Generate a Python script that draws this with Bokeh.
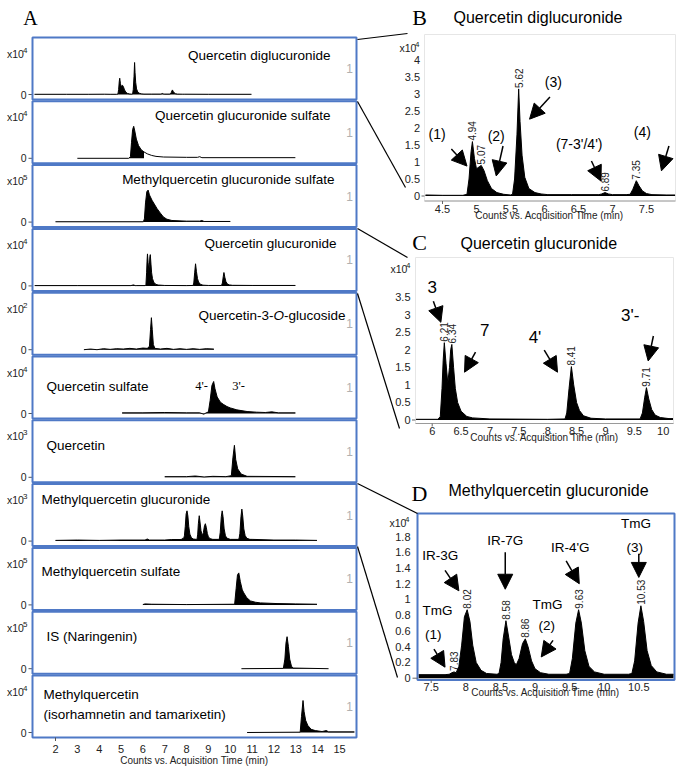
import numpy as np
from bokeh.plotting import figure
from bokeh.models import Range1d, ColumnDataSource, Arrow, NormalHead
from bokeh.core.properties import value
from bokeh.embed import file_html
from bokeh.resources import INLINE

# ---------------- data ----------------
a_names = ["Quercetin diglucuronide", "Quercetin glucuronide sulfate",
           "Methylquercetin glucuronide sulfate", "Quercetin glucuronide",
           "Quercetin-3-O-glucoside", "Quercetin sulfate", "Quercetin",
           "Methylquercetin glucuronide", "Methylquercetin sulfate",
           "IS (Naringenin)", "Methylquercetin"]
a_name_extra = "(isorhamnetin and tamarixetin)"
a_exponents = [4, 4, 5, 4, 2, 4, 3, 3, 5, 5, 4]
a_ticks = list(range(2, 16))
axis_title = "Counts vs. Acquisition Time (min)"

# Quercetin diglucuronide (x10^4), panel A1 and B
qdg_t = [1.04, 2.5, 3.5, 4.25, 4.5, 4.8, 4.86, 4.89, 4.92, 4.94, 4.97, 5.00, 5.04, 5.07, 5.11, 5.16,
         5.22, 5.30, 5.40, 5.50, 5.53, 5.56, 5.595, 5.62, 5.64, 5.67, 5.71, 5.77, 5.86, 5.95, 6.05, 6.40,
         6.80, 6.84, 6.89, 6.94, 7.00, 7.20, 7.26, 7.30, 7.35, 7.39, 7.44, 7.50, 7.58, 7.80, 7.92, 9.0, 10.97]
qdg_i = [0.02, 0.02, 0.02, 0.03, 0.02, 0.02, 0.05, 0.5, 1.3, 1.6, 1.1, 0.8, 0.86, 0.9, 0.75, 0.45,
         0.22, 0.1, 0.05, 0.03, 0.05, 0.5, 1.8, 3.15, 2.2, 1.2, 0.55, 0.22, 0.1, 0.06, 0.04, 0.04,
         0.04, 0.06, 0.1, 0.06, 0.04, 0.04, 0.05, 0.2, 0.45, 0.3, 0.15, 0.07, 0.04, 0.03, 0.03, 0.02, 0.02]
# Quercetin glucuronide sulfate
qgs_t = [3.0, 5.35, 5.43, 5.48, 5.53, 5.58, 5.63, 5.70, 5.80, 5.92, 6.05, 6.20, 6.40, 6.60, 6.95, 8.00, 8.50, 8.60, 8.70, 12.98]
qgs_i = [0.0, 0.0, 0.05, 0.5, 0.9, 1.0, 0.85, 0.6, 0.4, 0.27, 0.2, 0.14, 0.09, 0.06, 0.04, 0.03, 0.03, 0.05, 0.02, 0.02]
# Methylquercetin glucuronide sulfate
mqgs_t = [2.0, 6.02, 6.07, 6.12, 6.18, 6.24, 6.30, 6.42, 6.65, 6.80, 6.94, 7.10, 7.33, 8.00, 8.60, 8.70, 8.80, 10.0]
mqgs_i = [0.01, 0.01, 0.1, 0.6, 0.95, 1.0, 0.85, 0.68, 0.42, 0.28, 0.16, 0.09, 0.05, 0.03, 0.03, 0.05, 0.02, 0.02]
# Quercetin glucuronide (x10^4), panel A4 and C
qg_t = [1.05, 3.0, 5.45, 5.57, 5.65, 5.72, 6.10, 6.14, 6.17, 6.19, 6.21, 6.24, 6.27, 6.30, 6.32, 6.34,
        6.37, 6.40, 6.44, 6.50, 6.60, 6.70, 7.00, 8.00, 8.30, 8.33, 8.37, 8.41, 8.45, 8.50, 8.55, 8.62,
        8.75, 9.00, 9.60, 9.64, 9.68, 9.71, 9.75, 9.80, 9.86, 9.95, 10.10, 10.17, 11.0, 12.98]
qg_i = [0.02, 0.02, 0.02, 0.07, 0.02, 0.02, 0.02, 0.1, 0.9, 1.7, 2.2, 1.6, 1.05, 1.5, 2.0, 2.15,
        1.5, 0.9, 0.5, 0.25, 0.1, 0.06, 0.03, 0.02, 0.03, 0.2, 0.9, 1.52, 1.0, 0.5, 0.27, 0.12,
        0.05, 0.03, 0.03, 0.2, 0.65, 0.92, 0.6, 0.3, 0.14, 0.07, 0.04, 0.04, 0.03, 0.03]
# Quercetin-3-O-glucoside
q3g_t = [3.3, 3.6, 3.9, 4.2, 4.5, 4.8, 5.1, 5.4, 5.7, 6.0, 6.2, 6.3, 6.35, 6.39, 6.43, 6.48, 6.55,
         6.8, 7.1, 7.4, 7.7, 8.0, 8.3, 8.6, 8.9, 9.25]
q3g_i = [0.0, 0.02, 0.0, 0.03, 0.01, 0.03, 0.02, 0.04, 0.02, 0.05, 0.04, 0.1, 0.6, 0.96, 0.6, 0.15, 0.04,
         0.02, 0.04, 0.01, 0.03, 0.01, 0.03, 0.01, 0.03, 0.02]
# Quercetin sulfate
qs_t = [5.05, 6.0, 7.0, 8.0, 8.6, 8.79, 8.9, 9.0, 9.08, 9.16, 9.24, 9.30, 9.40, 9.55, 9.70, 9.85,
        10.0, 10.3, 10.77, 11.2, 11.6, 11.9, 12.2, 12.98]
qs_i = [0.02, 0.02, 0.03, 0.02, 0.02, -0.02, 0.02, 0.05, 0.4, 0.85, 0.97, 0.75, 0.5, 0.34, 0.27, 0.21,
        0.17, 0.11, 0.06, 0.04, 0.03, 0.05, 0.02, 0.02]
# Quercetin
q_t = [7.0, 8.0, 8.4, 8.8, 9.2, 9.8, 10.05, 10.12, 10.19, 10.25, 10.34, 10.5, 10.77, 12.98]
q_i = [0.02, 0.02, 0.04, 0.01, 0.03, 0.02, 0.05, 0.6, 0.99, 0.55, 0.26, 0.1, 0.03, 0.02]
# Methylquercetin glucuronide (x10^4), panel A8 and D
mqg_t = [2.0, 3.0, 4.0, 5.0, 6.1, 6.2, 6.3, 7.0, 7.32, 7.70, 7.76, 7.80, 7.83, 7.86, 7.90, 7.94,
         7.98, 8.02, 8.06, 8.10, 8.15, 8.22, 8.30, 8.45, 8.48, 8.51, 8.54, 8.58, 8.62, 8.66, 8.70, 8.73,
         8.77, 8.82, 8.86, 8.90, 8.95, 9.00, 9.08, 9.20, 9.45, 9.50, 9.54, 9.59, 9.63, 9.67, 9.72, 9.78,
         9.86, 10.00, 10.35, 10.40, 10.44, 10.49, 10.53, 10.57, 10.62, 10.68, 10.76, 10.90, 11.00, 12.0, 13.0, 13.97]
mqg_i = [0.02, 0.03, 0.02, 0.03, 0.03, 0.06, 0.03, 0.03, 0.045, 0.045, 0.05, 0.07, 0.08, 0.07, 0.15, 0.42,
         0.78, 0.87, 0.72, 0.42, 0.2, 0.1, 0.06, 0.05, 0.06, 0.2, 0.5, 0.73, 0.52, 0.3, 0.2, 0.17,
         0.25, 0.44, 0.5, 0.4, 0.22, 0.12, 0.07, 0.05, 0.05, 0.06, 0.25, 0.7, 0.87, 0.7, 0.35, 0.15,
         0.08, 0.05, 0.05, 0.06, 0.22, 0.7, 0.92, 0.72, 0.35, 0.16, 0.08, 0.05, 0.05, 0.03, 0.03, 0.02]
# Methylquercetin sulfate
mqs_t = [6.0, 6.1, 6.4, 8.0, 10.2, 10.27, 10.33, 10.39, 10.46, 10.55, 10.62, 10.75, 10.92, 11.15, 11.38, 12.14, 13.0, 13.97]
mqs_i = [0.01, 0.03, 0.02, 0.01, 0.02, 0.5, 0.9, 0.96, 0.7, 0.45, 0.36, 0.22, 0.12, 0.08, 0.06, 0.04, 0.03, 0.02]
# IS (Naringenin)
nar_t = [10.51, 12.43, 12.5, 12.55, 12.6, 12.66, 12.72, 12.8, 12.87, 14.5]
nar_i = [0.0, 0.01, 0.3, 0.8, 1.0, 0.7, 0.3, 0.08, 0.02, 0.0]
# Methylquercetin
mq_t = [10.77, 13.2, 13.26, 13.33, 13.38, 13.45, 13.55, 13.7, 13.89, 14.2, 14.4, 14.5, 15.68]
mq_i = [0.0, 0.01, 0.5, 1.0, 0.65, 0.38, 0.22, 0.1, 0.06, 0.03, 0.06, 0.02, 0.02]

a_traces = [(qdg_t, qdg_i), (qgs_t, qgs_i), (mqgs_t, mqgs_i), (qg_t, qg_i), (q3g_t, q3g_i),
            (qs_t, qs_i), (q_t, q_i), (mqg_t, mqg_i), (mqs_t, mqs_i), (nar_t, nar_i), (mq_t, mq_i)]
# end of the shaded (integrated) region of each trace, minutes (None: shade all)
a_fill_end = [None, 6.05, None, None, None, None, None, None, None, None, None]

b_title = "Quercetin diglucuronide"
b_xticks = [4.5, 5, 5.5, 6, 6.5, 7, 7.5]
b_yticks = [0, 0.5, 1, 1.5, 2, 2.5, 3, 3.5, 4]
b_peaks = [4.94, 5.07, 5.62, 6.89, 7.35]
b_notes = ["(1)", "(2)", "(3)", "(7-3'/4')", "(4)"]

c_title = "Quercetin glucuronide"
c_xticks = [6, 6.5, 7, 7.5, 8, 8.5, 9, 9.5, 10]
c_yticks = [0, 0.5, 1, 1.5, 2, 2.5, 3, 3.5]
c_peaks = [6.21, 6.34, 8.41, 9.71]
c_notes = ["3", "7", "4'", "3'-"]

d_title = "Methylquercetin glucuronide"
d_xticks = [7.5, 8, 8.5, 9, 9.5, 10, 10.5]
d_yticks = [0, 0.2, 0.4, 0.6, 0.8, 1, 1.2, 1.4, 1.6, 1.8]
d_peaks = [7.83, 8.02, 8.58, 8.86, 9.63, 10.53]
d_notes = ["TmG", "(1)", "IR-3G", "IR-7G", "TmG", "(2)", "IR-4'G", "TmG", "(3)"]

# ---------------- layout / style ----------------
W, H, M = 681, 770, 0
BLUE = "#4f79c6"
SANS, SERIF = "Liberation Sans", "Liberation Serif"

p = figure(width=W, height=H, x_range=Range1d(M, M + W), y_range=Range1d(M + H, M),
           output_backend="svg", toolbar_location=None, title=None,
           x_axis_location=None, y_axis_location=None, min_border=0)
p.grid.visible = False
p.outline_line_color = None
p.background_fill_color = "white"

XR, YR, MAP = {}, {}, {}


def panel(name, xd, xp, yd, yp):
    kx = (xd[1] - xd[0]) / (xp[1] - xp[0])
    ky = (yd[1] - yd[0]) / (yp[0] - yp[1])
    XR[name] = Range1d(xd[0] - (xp[0] - M) * kx, xd[0] + (M + W - xp[0]) * kx)
    YR[name] = Range1d(yd[0] - (M + H - yp[0]) * ky, yd[0] + (yp[0] - M) * ky)
    fx = lambda px: xd[0] + (px - xp[0]) * kx
    fy = lambda py: yd[0] + (yp[0] - py) * ky
    MAP[name] = (fx, fy)
    return fx, fy


def aslist(v):
    return list(v) if isinstance(v, (list, tuple, np.ndarray)) else [v]


def T(x, y, s, size, rn=None, color="black", font=SANS, align="left", baseline="middle",
      style="normal", angle=0.0, yoff=0):
    xs, ys, ss = aslist(x), aslist(y), aslist(s)
    n = max(len(xs), len(ys), len(ss))
    if len(xs) == 1: xs = xs * n
    if len(ys) == 1: ys = ys * n
    if len(ss) == 1: ss = ss * n
    kw = dict(x_range_name=rn, y_range_name=rn) if rn else {}
    p.text(x=xs, y=ys, text=ss, text_font=value(font), text_font_size=f"{size}px",
           text_color=color, text_align=align, text_baseline=baseline,
           text_font_style=style, angle=angle, y_offset=yoff, **kw)


def seg(x0, y0, x1, y1, color, width=1, rn=None):
    kw = dict(x_range_name=rn, y_range_name=rn) if rn else {}
    p.segment(x0=aslist(x0), y0=aslist(y0), x1=aslist(x1), y1=aslist(y1),
              line_color=color, line_width=width, **kw)


def trace(t, i, rn, fill_end=None):
    t = np.asarray(t); i = np.asarray(i)
    f = t <= fill_end if fill_end is not None else np.ones(len(t), bool)
    p.varea(x=t[f], y1=0, y2=i[f], fill_color="black", x_range_name=rn, y_range_name=rn)
    p.line(x=t, y=i, line_color="black", line_width=1, x_range_name=rn, y_range_name=rn)


# ---------------- panel A ----------------
A_TOP0, A_PITCH, A_BOX_H = 37.0, 63.8, 62.0
A_LEFT, A_RIGHT = 32, 356
a_tops = [A_TOP0 + k * A_PITCH for k in range(len(a_traces))]
label_layout = [("right", 330, 18), ("right", 330, 14), ("right", 334, 14), ("right", 336, 15),
                ("right", 345, 23), ("left", 46, 30), ("left", 46, 25), ("left", 41, 15),
                ("left", 41, 24), ("left", 46, 25), ("left", 43, 19)]

T(30, 17, "A", 20, font=SERIF, align="center")
for k, (t, i) in enumerate(a_traces):
    top = a_tops[k]
    base = top + 57
    name = f"a{k}"
    panel(name, (2, 15), (55, 339), (0, max(i)), (base, base - 32))
    trace(t, i, name, a_fill_end[k])
    T(6.5, top + 16, "x10", 10.5, color="#222")
    T(22.5, top + 12.5, str(a_exponents[k]), 8, color="#222")
    T(26, base, "0", 10.5, color="#222", align="right")
    seg(28, base, 32, base, "#555")
    T(349, top + 31, "1", 12, color="#b0b0b0", align="center")
    al, lx, dy = label_layout[k]
    if k == 4:
        # italic O in Quercetin-3-O-glucoside
        T(lx, top + dy, "-glucoside", 13.5, align="right")
        T(lx - 61.5, top + dy, "O", 13.5, align="right", style="italic")
        T(lx - 72.0, top + dy, "Quercetin-3-", 13.5, align="right")
    else:
        T(lx, top + dy, a_names[k], 13.5, align=al)
T(43, a_tops[10] + 39, a_name_extra, 13.5)
T([201, 238], a_tops[5] + 29, ["4'-", "3'-"], 12.5, font=SERIF, align="center")

p.quad(left=A_LEFT, right=A_RIGHT, top=a_tops, bottom=[t + A_BOX_H for t in a_tops],
       fill_color=None, line_color=BLUE, line_width=2)

fx, fy = MAP["a10"]
a_bot = a_tops[10] + A_BOX_H
seg(a_ticks, fy(a_bot), a_ticks, fy(a_bot + 3.5), "#555", rn="a10")
T(a_ticks, fy(748), [str(v) for v in a_ticks], 11, rn="a10", color="#222", align="center")
T(194, 760, axis_title, 10, color="#222", align="center")


# ---------------- zoomed panels ----------------
def zoom_panel(name, t, i, xticks, yticks, peaks, notes, note_x, note_y, note_size,
               arr, title, letter, L):
    fx, fy = panel(name, *L["map"])
    fl, fr, ft, fb = L["frame"]
    p.quad(left=fl, right=fr, top=ft, bottom=fb, fill_color=None,
           line_color=L["fcolor"], line_width=L["fwidth"])
    if L["axis_line"]:
        seg(fl, fb, fr, fb, "#9a9a9a")
    t = np.asarray(t); i = np.asarray(i)
    m = (t >= fx(fl)) & (t <= fx(fr))
    trace(t[m], i[m], name)
    # axes
    seg(xticks, fy(fb), xticks, fy(fb + 3), "#666", rn=name)
    T(xticks, fy(L["xlab_y"]), [f"{v:g}" for v in xticks], 11, rn=name, color="#222", align="center")
    seg(fx(L["ytick"][0]), yticks, fx(L["ytick"][1]), yticks, "#666", rn=name)
    T(fx(L["ylab_x"]), yticks, [f"{v:g}" for v in yticks], 11, rn=name, color="#222", align="right")
    T(L["title_xy"][0], L["title_xy"][1], axis_title, 10, color="#222", align="center")
    T(L["x10"][0], L["x10"][1], "x10", 10.5, color="#222")
    T(L["x10"][0] + 15.5, L["x10"][1] - 3.5, "4", 8, color="#222")
    T(L["letter"][0], L["letter"][1], letter, 22, font=SERIF, align="center")
    T(L["name_xy"][0], L["name_xy"][1], title, 16)
    # peak retention-time labels
    heights = np.interp(peaks, t, i)
    T(peaks, list(heights), [f"{v:.2f}" for v in peaks], 10, rn=name, color="#222",
      angle=np.pi / 2, yoff=-1)
    # annotations
    T(note_x, note_y, notes, note_size, rn=name, align="center")
    src = ColumnDataSource(dict(x0=arr[0], y0=arr[1], x1=arr[2], y1=arr[3]))
    p.add_layout(Arrow(end=NormalHead(size=15, fill_color="black", line_color="black"),
                       x_start="x0", y_start="y0", x_end="x1", y_end="y1", source=src,
                       line_color="black", line_width=1.5, x_range_name=name, y_range_name=name))


zoom_panel("b", qdg_t, qdg_i, b_xticks, b_yticks, b_peaks, b_notes,
           [4.42, 5.29, 6.13, 6.51, 7.44], [1.82, 1.76, 3.35, 1.53, 1.88], 14,
           ([4.63, 5.39, 6.08, 6.69, 7.83], [1.38, 1.47, 2.91, 1.03, 1.47],
            [4.86, 5.29, 5.78, 6.83, 7.72], [0.88, 0.59, 2.26, 0.44, 0.74]),
           b_title, "B",
           dict(map=((4.5, 7.5), (442, 646), (0, 4), (195.5, 59.5)), frame=(424, 675, 34, 200.5),
                fcolor="#e6e6e6", fwidth=1, axis_line=True, xlab_y=208, title_xy=(549, 215),
                ylab_x=419.5, ytick=(421, 424), x10=(399, 47.7), letter=(419, 17), name_xy=(453, 17)))

zoom_panel("c", qg_t, qg_i, c_xticks, c_yticks, c_peaks, c_notes,
           [6.0, 6.91, 7.78, 9.43], [3.78, 2.56, 2.36, 2.98], 17,
           ([6.02, 6.75, 7.94, 9.83], [3.38, 1.93, 1.99, 2.39],
            [6.15, 6.56, 8.17, 9.74], [2.78, 1.36, 1.36, 1.68]),
           c_title, "C",
           dict(map=((6, 10), (431.7, 662.7), (0, 3.5), (419.5, 296.5)), frame=(415, 673, 257, 423),
                fcolor="#e6e6e6", fwidth=1, axis_line=True, xlab_y=430.5, title_xy=(544, 437),
                ylab_x=410, ytick=(411.5, 415), x10=(390, 268), letter=(419, 242), name_xy=(460, 243)))

zoom_panel("d", mqg_t, mqg_i, d_xticks, d_yticks, d_peaks, d_notes,
           [7.59, 7.53, 7.63, 8.57, 9.18, 9.17, 9.51, 10.46, 10.44],
           [0.86, 0.56, 1.56, 1.75, 0.94, 0.67, 1.66, 1.96, 1.66], 13.5,
           ([7.70, 8.57, 9.45, 10.5, 7.54, 9.26], [1.37, 1.60, 1.49, 1.58, 0.37, 0.48],
            [7.90, 8.57, 9.64, 10.5, 7.70, 9.09], [1.11, 1.13, 1.20, 1.28, 0.14, 0.27]),
           d_title, "D",
           dict(map=((7.5, 10.5), (430.7, 638.3), (0, 1.8), (677.7, 536)), frame=(417, 674, 513, 679.5),
                fcolor=BLUE, fwidth=2, axis_line=False, xlab_y=686, title_xy=(545, 692),
                ylab_x=410, ytick=(412, 417), x10=(389, 522), letter=(419, 493), name_xy=(448, 490)))

# connector lines between panel A and the zoomed panels
seg([357, 357, 357, 357, 357, 357], [39, 101, 228, 293, 483, 546],
    [407, 405, 407, 399, 417, 397], [33, 187, 257, 428, 513, 677], "black", 1.2)

p.extra_x_ranges = XR
p.extra_y_ranges = YR

open("out.html", "w").write(file_html(p, INLINE))
